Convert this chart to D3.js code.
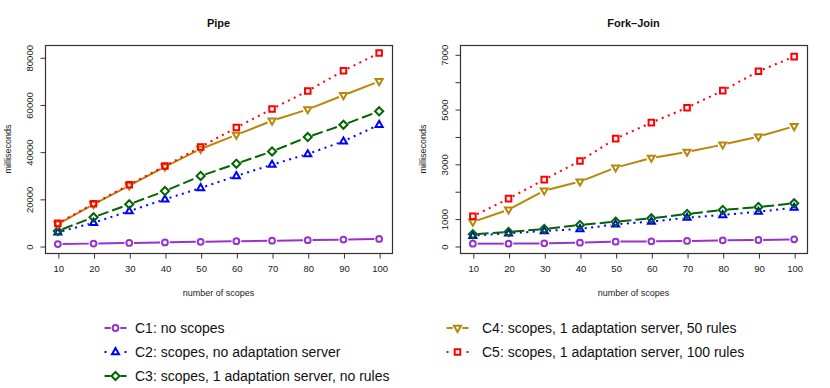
<!DOCTYPE html>
<html>
<head>
<meta charset="utf-8">
<script src="https://cdn.jsdelivr.net/npm/d3@7"></script>
<style>
  body { margin: 0; background: #fff; }
  svg { display: block; font-family: "Liberation Sans", Arial, Helvetica, sans-serif; }
</style>
</head>
<body>
<svg id="chart" width="830" height="388"></svg>
<script>
// ---- data ----
const scopes = [10, 20, 30, 40, 50, 60, 70, 80, 90, 100];
const seriesNames = [
  "C1: no scopes",
  "C2: scopes, no adaptation server",
  "C3: scopes, 1 adaptation server, no rules",
  "C4: scopes, 1 adaptation server, 50 rules",
  "C5: scopes, 1 adaptation server, 100 rules"
];
const seriesColors = ["#9932CC", "#0000FF", "#006400", "#B8860B", "#FF0000"];
const seriesDash = ["none", "2,4.5", "11,4", "none", "2,4.5"];
const seriesMarkers = ["circle", "triUp", "diamond", "triDown", "square"];

const pipeC1 = [850, 1050, 1300, 1550, 1800, 2050, 2250, 2500, 2750, 3000];
const pipeC2 = [5800, 9900, 14800, 19800, 24600, 29700, 34500, 39000, 44400, 51400];
const pipeC3 = [6400, 12200, 17700, 23300, 29700, 34900, 40100, 46200, 51400, 57100];
const pipeC4 = [9300, 17700, 25600, 33600, 41100, 47100, 53100, 57900, 63900, 69800];
const pipeC5 = [9600, 17900, 26000, 33900, 42000, 50200, 58100, 65700, 74300, 81800];

const forkC1 = [85, 85, 97, 122, 158, 170, 183, 207, 219, 243];
const forkC2 = [377, 463, 548, 621, 791, 889, 1035, 1132, 1254, 1400];
const forkC3 = [426, 511, 621, 767, 889, 1010, 1169, 1315, 1424, 1558];
const forkC4 = [877, 1327, 2021, 2350, 2861, 3214, 3433, 3701, 3993, 4370];
const forkC5 = [1083, 1729, 2423, 3104, 3920, 4505, 5052, 5673, 6379, 6915];

const xTicks = [10, 20, 30, 40, 50, 60, 70, 80, 90, 100];
const pipeYTicks = [0, 20000, 40000, 60000, 80000];
const pipeYLabels = [0, 20000, 40000, 60000, 80000];
const forkYTicks = [0, 1000, 2000, 3000, 4000, 5000, 6000, 7000];
const forkYLabels = [0, 1000, 3000, 5000, 7000];
const pipeYLimits = [-2950, 85200];
const forkYLimits = [-256, 7340];

const panels = [
  { title: "Pipe", series: [pipeC1, pipeC2, pipeC3, pipeC4, pipeC5], yTicks: pipeYTicks, yLabels: pipeYLabels, yLim: pipeYLimits, x0: 45 },
  { title: "Fork\u2013Join", series: [forkC1, forkC2, forkC3, forkC4, forkC5], yTicks: forkYTicks, yLabels: forkYLabels, yLim: forkYLimits, x0: 460 }
];

// ---- drawing ----
const svg = d3.select("#chart");
const boxW = 347, boxTop = 45, boxBottom = 253;
const axisColor = "#333";

function markerPath(type, s) {
  const p = d3.path();
  if (type === "triUp") {
    p.moveTo(0, -s * 1.05); p.lineTo(s * 0.95, s * 0.6); p.lineTo(-s * 0.95, s * 0.6); p.closePath();
  } else if (type === "triDown") {
    p.moveTo(0, s * 1.05); p.lineTo(s * 0.95, -s * 0.6); p.lineTo(-s * 0.95, -s * 0.6); p.closePath();
  } else if (type === "diamond") {
    p.moveTo(0, -s * 1.1); p.lineTo(s * 1.1, 0); p.lineTo(0, s * 1.1); p.lineTo(-s * 1.1, 0); p.closePath();
  } else if (type === "square") {
    p.rect(-s * 0.75, -s * 0.75, s * 1.5, s * 1.5);
  } else {
    p.arc(0, 0, s * 0.78, 0, 2 * Math.PI);
  }
  return p.toString();
}

function drawMarker(g, type, x, y, color) {
  g.append("path")
    .attr("d", markerPath(type, 3.7))
    .attr("transform", `translate(${x},${y})`)
    .attr("fill", "none")
    .attr("stroke", color)
    .attr("stroke-width", 2);
}

function drawGappedLine(g, pts, color, dash, gap) {
  for (let i = 0; i < pts.length - 1; i++) {
    const [x1, y1] = pts[i], [x2, y2] = pts[i + 1];
    const dx = x2 - x1, dy = y2 - y1, len = Math.hypot(dx, dy);
    if (len <= 2 * gap) continue;
    const ux = dx / len, uy = dy / len;
    g.append("line")
      .attr("x1", x1 + ux * gap).attr("y1", y1 + uy * gap)
      .attr("x2", x2 - ux * gap).attr("y2", y2 - uy * gap)
      .attr("stroke", color)
      .attr("stroke-width", 2)
      .attr("stroke-dasharray", dash);
  }
}

panels.forEach(pn => {
  const g = svg.append("g");
  const x = d3.scaleLinear().domain([6.4, 103.6]).range([pn.x0, pn.x0 + boxW]);
  const y = d3.scaleLinear().domain(pn.yLim).range([boxBottom, boxTop]);

  // box
  g.append("rect")
    .attr("x", pn.x0 + 0.5).attr("y", boxTop + 0.5)
    .attr("width", boxW).attr("height", boxBottom - boxTop)
    .attr("fill", "none").attr("stroke", axisColor).attr("stroke-width", 1.2);

  // x axis
  const xAxis = d3.axisBottom(x).tickValues(xTicks).tickSize(5).tickPadding(7).tickFormat(d3.format("d"));
  const xa = g.append("g").attr("transform", `translate(0.5,${boxBottom + 0.5})`).call(xAxis);
  xa.select(".domain").attr("d", `M${x(xTicks[0])},0H${x(xTicks[xTicks.length - 1])}`).attr("stroke", axisColor);
  xa.selectAll(".tick line").attr("stroke", axisColor);
  xa.selectAll(".tick text").attr("font-size", 9.5).attr("fill", "#222")
    .attr("font-family", "Liberation Sans, Arial, sans-serif");

  // y axis
  const yAxis = d3.axisLeft(y).tickValues(pn.yTicks).tickSize(5)
    .tickFormat(d => pn.yLabels.includes(d) ? String(d) : "");
  const ya = g.append("g").attr("transform", `translate(${pn.x0 + 0.5},0.5)`).call(yAxis);
  ya.select(".domain").attr("d", `M0,${y(pn.yTicks[0])}V${y(pn.yTicks[pn.yTicks.length - 1])}`).attr("stroke", axisColor);
  ya.selectAll(".tick line").attr("stroke", axisColor);
  ya.selectAll(".tick text")
    .attr("font-size", 9.5).attr("fill", "#222")
    .attr("font-family", "Liberation Sans, Arial, sans-serif")
    .attr("text-anchor", "middle")
    .attr("dy", null)
    .attr("x", null)
    .attr("transform", "translate(-12.5,0) rotate(-90)");

  // titles
  g.append("text").attr("x", pn.x0 + boxW / 2).attr("y", 27)
    .attr("text-anchor", "middle").attr("font-weight", "bold").attr("font-size", 11)
    .attr("fill", "#111").text(pn.title);
  g.append("text").attr("x", pn.x0 + boxW / 2).attr("y", 296)
    .attr("text-anchor", "middle").attr("font-size", 9).attr("fill", "#222").text("number of scopes");
  g.append("text")
    .attr("transform", `translate(${pn.x0 - 34.5},${(boxTop + boxBottom) / 2}) rotate(-90)`)
    .attr("text-anchor", "middle").attr("font-size", 9).attr("fill", "#222").text("milliseconds");

  // series
  pn.series.forEach((vals, si) => {
    const pts = vals.map((v, i) => [x(scopes[i]), y(v)]);
    drawGappedLine(g, pts, seriesColors[si], seriesDash[si], 4.8);
    pts.forEach(([px, py]) => drawMarker(g, seriesMarkers[si], px, py, seriesColors[si]));
  });
});

// legend
const legendPos = [
  { sx: 115.5, tx: 135, y: 328 },
  { sx: 115.5, tx: 135, y: 352 },
  { sx: 115.5, tx: 135, y: 376 },
  { sx: 457.5, tx: 482, y: 328 },
  { sx: 457.5, tx: 482, y: 352 }
];
const lg = svg.append("g");
seriesNames.forEach((name, i) => {
  const p = legendPos[i];
  const lx1 = p.sx - 11, lx2 = p.sx + 11;
  if (seriesDash[i] === "none" || seriesDash[i].startsWith("11")) {
    [[lx1, p.sx - 4.8], [p.sx + 4.8, lx2]].forEach(([a, b]) => {
      lg.append("line").attr("x1", a).attr("x2", b).attr("y1", p.y).attr("y2", p.y)
        .attr("stroke", seriesColors[i]).attr("stroke-width", 2);
    });
  } else {
    [lx1, lx2 - 2].forEach(a => {
      lg.append("line").attr("x1", a).attr("x2", a + 2).attr("y1", p.y).attr("y2", p.y)
        .attr("stroke", seriesColors[i]).attr("stroke-width", 2);
    });
  }
  drawMarker(lg, seriesMarkers[i], p.sx, p.y, seriesColors[i]);
  lg.append("text").attr("x", p.tx).attr("y", p.y + 5)
    .attr("font-size", 14).attr("fill", "#111").text(name);
});
</script>
</body>
</html>
